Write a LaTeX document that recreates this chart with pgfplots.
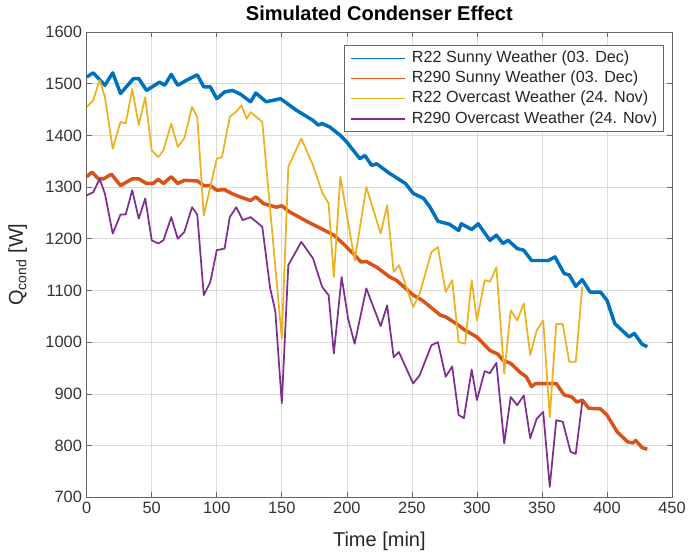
\documentclass[border=0pt]{standalone}
\usepackage{fontspec}
\setmainfont{Liberation Sans}
\usepackage{pgfplots}
\pgfplotsset{compat=1.18}

% MATLAB default line colours
\definecolor{mblue}{rgb}{0,0.447,0.741}
\definecolor{morange}{rgb}{0.850,0.325,0.098}
\definecolor{myellow}{rgb}{0.929,0.694,0.125}
\definecolor{mpurple}{rgb}{0.494,0.184,0.556}

\begin{document}
\begin{tikzpicture}
\begin{axis}[
  scale only axis,
  width=438.75pt, height=348.75pt,
  xmin=0, xmax=450, ymin=700, ymax=1600,
  xtick distance=50, ytick distance=100,
  grid=major,
  grid style={black!14, line width=0.5pt},
  axis line style={black!60, line width=0.6pt},
  tick style={black!60, line width=0.5pt},
  major tick length=4pt,
  tick align=inside,
  ticklabel style={font=\fontsize{12.3}{14}\selectfont, text=black!80},
  /pgf/number format/assume math mode=true,
  /pgf/number format/1000 sep={},
  title={\bfseries Simulated Condenser Effect},
  title style={font=\fontsize{15}{17}\selectfont, at={(0.5,1)}, anchor=base, yshift=2.5pt},
  xlabel={Time [min]},
  ylabel={Q\textsubscript{cond} [W]},
  label style={font=\fontsize{15}{17}\selectfont, text=black!85},
  xlabel style={at={(0.5,0)}, anchor=base, yshift=-37pt},
  ylabel style={at={(-0.109,0.5)}, anchor=base},
  legend style={at={(0.9868,0.972)}, anchor=north east,
    draw=black!60, line width=0.6pt, fill=white,
    font=\fontsize{12.1}{14}\selectfont, text=black!85,
    inner xsep=4pt, inner ysep=2.5pt, row sep=1pt,
    /tikz/every odd column/.append style={column sep=3.5pt},
    nodes={inner sep=1pt, text height=9.2pt, text depth=3pt}},
  legend cell align=left,
  legend image code/.code={\draw[#1, line width=1pt] (0pt,0pt) -- (41pt,0pt);},
  every axis plot/.append style={line join=round},
]
\coordinate (ll) at (rel axis cs:0,0);
\coordinate (ur) at (rel axis cs:1,1);

% R22, sunny day
\addplot[mblue, line width=2.6pt] coordinates {
(0,1513) (5,1521) (14,1497) (20,1521) (26,1481) (36,1510) (40,1510)
(46,1487) (56,1503) (60,1497) (65,1518) (70,1497) (77,1507) (85,1517)
(90,1494) (95,1494) (100,1471) (106,1484) (112,1487) (118,1480)
(126,1465) (130,1482) (138,1465) (149,1471) (161,1449) (174,1429)
(178,1420) (181,1423) (187,1416) (195,1400) (200,1387) (210,1355)
(214,1361) (219,1342) (223,1345) (232,1328) (245,1307) (251,1288)
(259,1278) (264,1261) (270,1234) (279,1228) (286,1216) (288,1229)
(296,1218) (301,1229) (310,1197) (315,1207) (320,1191) (324,1197)
(331,1181) (336,1178) (342,1158) (349,1158) (355,1158) (360,1165)
(367,1133) (371,1130) (376,1108) (381,1121) (387,1097) (395,1097)
(400,1081) (406,1036) (417,1010) (421,1017) (427,996) (431,991)
};
\addlegendentry{R22 Sunny Weather (03. Dec)}

% R290, sunny day
\addplot[morange, line width=2.6pt] coordinates {
(0,1320) (4,1329) (9,1316) (13,1316) (19,1325) (26,1303) (35,1316)
(40,1316) (46,1307) (51,1307) (55,1315) (59,1307) (65,1320) (70,1307)
(75,1313) (85,1312) (90,1303) (95,1303) (100,1294) (106,1295)
(112,1287) (118,1281) (126,1274) (130,1281) (136,1268) (146,1261)
(150,1264) (156,1252) (169,1234) (180,1220) (190,1207) (197,1191)
(205,1171) (211,1155) (215,1156) (223,1145) (233,1126) (238,1120)
(251,1091) (258,1081) (272,1052) (276,1049) (284,1036) (291,1023)
(300,1010) (310,984) (316,977) (320,965) (326,959) (333,942) (338,933)
(342,914) (345,920) (361,920) (367,898) (373,894) (377,884) (381,888)
(386,872) (395,871) (400,859) (408,826) (416,807) (420,805) (422,810)
(427,796) (431,793)
};
\addlegendentry{R290 Sunny Weather (03. Dec)}

% R22, overcast day
\addplot[myellow, line width=1.3pt] coordinates {
(0,1455) (5,1468) (10,1507) (14,1474) (20,1374) (26,1426) (30,1423)
(35,1490) (40,1420) (45,1474) (50,1371) (55,1358) (59,1371) (65,1423)
(70,1378) (75,1394) (81,1455) (85,1436) (90,1245) (100,1355)
(104,1358) (110,1436) (115,1446) (119,1458) (123,1432) (126,1445)
(135,1426) (150,1007) (155,1339) (165,1394) (174,1342) (181,1290)
(186,1268) (190,1126) (195,1320) (206,1158) (215,1300) (226,1210)
(231,1265) (236,1136) (240,1149) (251,1068) (256,1094) (265,1174)
(270,1184) (276,1097) (281,1120) (286,1000) (291,997) (296,1120)
(300,1042) (306,1120) (310,1117) (315,1145) (321,939) (326,1062)
(331,1042) (336,1075) (341,975) (346,1023) (351,1042) (356,855)
(361,1035) (366,1035) (371,962) (376,962) (381,1107)
};
\addlegendentry{R22 Overcast Weather (24. Nov)}

% R290, overcast day
\addplot[mpurple, line width=1.3pt] coordinates {
(0,1284) (5,1290) (10,1316) (14,1287) (20,1210) (26,1247) (30,1247)
(35,1294) (40,1239) (45,1278) (50,1197) (55,1191) (59,1197) (65,1242)
(70,1200) (75,1213) (81,1261) (85,1247) (90,1091) (95,1116)
(100,1178) (106,1181) (110,1242) (115,1261) (120,1236) (126,1242)
(135,1223) (141,1105) (145,1060) (150,882) (155,1149) (165,1194)
(174,1162) (181,1107) (186,1091) (190,978) (196,1126) (201,1045)
(206,997) (215,1104) (226,1031) (231,1071) (236,971) (240,981)
(251,920) (256,936) (265,994) (270,1000) (276,933) (281,953)
(286,859) (290,853) (296,947) (300,888) (306,944) (310,940)
(315,960) (321,804) (326,894) (331,878) (336,897) (341,814)
(346,852) (351,865) (356,720) (361,849) (366,846) (372,788)
(376,784) (381,884)
};
\addlegendentry{R290 Overcast Weather (24. Nov)}
\end{axis}
\pgfresetboundingbox
\path[use as bounding box] ([shift={(-65pt,-43.5pt)}]ll) rectangle ([shift={(13.5pt,24pt)}]ur);
\end{tikzpicture}
\end{document}
